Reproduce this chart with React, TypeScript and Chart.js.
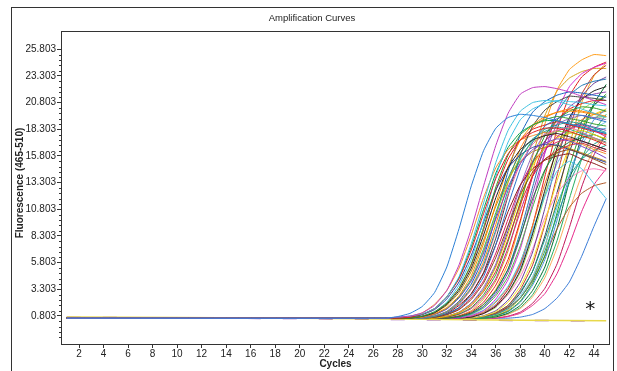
import React, { useEffect, useRef } from 'react';
import { Chart, registerables } from 'chart.js';
Chart.register(...registerables);

// ---- data ----
const startCycle = 1;
const lateCycles = [27, 28, 29, 30, 31, 32, 33, 34, 35, 36, 37, 38, 39, 40, 41, 42, 43, 44, 45];
const xTickValues = [2, 4, 6, 8, 10, 12, 14, 16, 18, 20, 22, 24, 26, 28, 30, 32, 34, 36, 38, 40, 42, 44];
const yTickValues = [0.803, 3.303, 5.803, 8.303, 10.803, 13.303, 15.803, 18.303, 20.803, 23.303, 25.803];

const earlyCurves: number[][] = [
  [0.6, 0.75, 1.05, 1.7, 3.0, 5.4, 9.0, 13.0, 16.3, 18.4, 19.4, 19.7, 19.6, 19.4, 19.1, 18.8, 18.5, 18.2, 17.9],
  [0.6, 0.7, 0.8, 1.1, 1.8, 3.2, 5.6, 9.0, 13.0, 16.8, 19.8, 21.6, 22.2, 22.3, 22.1, 21.8, 21.4, 21.0, 20.6],
  [0.6, 0.7, 0.8, 1.0, 1.5, 2.6, 4.5, 7.6, 11.4, 15.2, 18.2, 20.0, 20.8, 21.0, 20.9, 20.6, 20.2, 19.8, 19.4],
  [0.6, 0.6, 0.69, 0.96, 1.5, 2.6, 4.3, 7.0, 10.4, 13.7, 16.0, 17.3, 18.0, 18.4, 18.4, 18.1, 17.7, 17.3, 16.8],
  [0.6, 0.6, 0.6, 0.79, 1.2, 2.0, 3.4, 5.7, 9.1, 12.9, 15.9, 17.8, 18.7, 19.2, 19.5, 19.3, 19.1, 18.8, 18.6],
  [0.6, 0.6, 0.6, 0.77, 1.1, 1.9, 3.2, 5.3, 8.4, 11.9, 14.7, 16.4, 17.3, 17.7, 17.9, 17.6, 17.2, 16.8, 16.4],
  [0.6, 0.6, 0.6, 0.7, 1.0, 1.6, 2.7, 4.6, 7.6, 11.3, 14.8, 17.3, 18.7, 19.5, 19.9, 20.0, 19.9, 19.7, 19.5],
  [0.6, 0.6, 0.6, 0.68, 0.94, 1.45, 2.5, 4.1, 6.7, 9.9, 12.9, 15.1, 16.4, 17.0, 17.4, 17.2, 16.7, 16.2, 15.6],
  [0.6, 0.6, 0.6, 0.6, 0.78, 1.15, 2.0, 3.4, 5.6, 8.9, 12.6, 15.5, 17.3, 18.3, 18.7, 19.0, 18.8, 18.4, 18.0],
  [0.6, 0.6, 0.6, 0.6, 0.78, 1.14, 1.9, 3.3, 5.4, 8.7, 12.2, 15.1, 16.9, 17.8, 18.2, 18.5, 18.0, 17.5, 17.0],
  [0.6, 0.6, 0.6, 0.6, 0.68, 0.92, 1.4, 2.35, 3.9, 6.3, 9.3, 12.2, 14.3, 15.5, 16.1, 16.4, 16.0, 15.5, 15.0],
  [0.6, 0.6, 0.6, 0.6, 0.7, 1.0, 1.56, 2.7, 4.5, 7.5, 11.2, 14.6, 17.1, 18.6, 19.3, 19.7, 19.6, 19.3, 19.0],
  [0.6, 0.6, 0.6, 0.6, 0.6, 0.78, 1.13, 1.9, 3.2, 5.4, 8.5, 12.0, 14.9, 16.6, 17.5, 17.9, 18.2, 17.8, 17.4],
  [0.6, 0.6, 0.6, 0.6, 0.6, 0.76, 1.1, 1.8, 3.1, 5.0, 8.0, 11.3, 13.9, 15.5, 16.3, 16.8, 17.0, 16.6, 16.2],
  [0.6, 0.6, 0.6, 0.6, 0.6, 0.7, 1.0, 1.6, 2.8, 4.7, 7.8, 11.5, 15.1, 17.7, 19.2, 20.0, 20.4, 20.3, 20.0],
  [0.6, 0.6, 0.6, 0.6, 0.6, 0.69, 0.96, 1.5, 2.6, 4.3, 7.2, 10.6, 13.9, 16.3, 17.6, 18.3, 18.7, 18.2, 17.6],
  [0.6, 0.6, 0.6, 0.6, 0.6, 0.6, 0.77, 1.1, 1.9, 3.2, 5.2, 8.3, 11.8, 14.5, 16.3, 17.1, 17.5, 17.8, 17.3],
  [0.6, 0.6, 0.6, 0.8, 1.2, 2.1, 3.7, 6.1, 9.8, 13.9, 17.1, 19.2, 20.2, 20.7, 21.0, 20.9, 20.8, 20.6, 20.5],
  [0.6, 0.6, 0.68, 0.93, 1.4, 2.4, 4.0, 6.5, 9.6, 12.6, 14.7, 15.9, 16.6, 16.9, 16.8, 16.4, 16.0, 15.6, 15.2],
  [0.6, 0.6, 0.6, 0.69, 0.95, 1.5, 2.5, 4.2, 6.9, 10.3, 13.4, 15.7, 17.1, 17.7, 18.1, 18.0, 17.7, 17.4, 17.0],
  [0.6, 0.6, 0.6, 0.6, 0.75, 1.06, 1.8, 2.9, 4.8, 7.5, 10.6, 13.1, 14.6, 15.4, 15.8, 16.0, 15.5, 15.1, 14.6],
  [0.6, 0.6, 0.6, 0.6, 0.7, 1.0, 1.6, 2.9, 4.9, 8.1, 12.1, 15.9, 18.6, 20.1, 20.9, 21.4, 21.3, 21.2, 21.0],
  [0.6, 0.6, 0.77, 1.1, 1.9, 3.2, 5.3, 8.4, 11.9, 14.7, 16.4, 17.3, 17.7, 18.0, 17.7, 17.3, 16.9, 16.4, 16.0],
  [0.6, 0.6, 0.6, 0.6, 0.6, 0.79, 1.17, 2.0, 3.5, 5.7, 9.2, 13.0, 16.0, 17.9, 18.8, 19.3, 19.6, 19.4, 19.2],
  [0.6, 0.6, 0.6, 0.78, 1.15, 2.0, 3.4, 5.6, 8.9, 12.6, 15.5, 17.3, 18.3, 18.7, 19.0, 18.7, 18.4, 18.1, 17.8],
  [0.6, 0.6, 0.6, 0.69, 0.96, 1.5, 2.6, 4.3, 7.1, 10.5, 13.7, 16.1, 17.4, 18.1, 18.5, 18.3, 17.9, 17.5, 17.1],
  [0.6, 0.6, 0.6, 0.6, 0.8, 1.2, 2.1, 3.5, 5.9, 9.4, 13.3, 16.5, 18.4, 19.4, 19.9, 20.2, 20.0, 19.8, 19.5],
  [0.6, 0.6, 0.6, 0.6, 0.68, 0.94, 1.45, 2.5, 4.1, 6.7, 9.9, 13.0, 15.2, 16.5, 17.1, 17.4, 17.2, 16.8, 16.4],
  [0.6, 0.6, 0.6, 0.6, 0.6, 0.78, 1.15, 2.0, 3.3, 5.5, 8.8, 12.4, 15.3, 17.2, 18.1, 18.6, 18.8, 18.5, 18.2],
  [0.6, 0.6, 0.69, 0.97, 1.5, 2.6, 4.4, 7.3, 10.8, 14.2, 16.6, 18.0, 18.7, 19.1, 19.1, 18.8, 18.5, 18.2, 17.9],
  [0.6, 0.6, 0.6, 0.76, 1.1, 1.8, 3.0, 5.0, 7.9, 11.1, 13.7, 15.3, 16.2, 16.6, 16.8, 16.5, 16.1, 15.7, 15.3],
  [0.6, 0.6, 0.6, 0.6, 0.81, 1.24, 2.2, 3.8, 6.3, 10.1, 14.4, 17.8, 19.9, 20.9, 21.5, 21.8, 21.7, 21.5, 21.3],
];

const lateCurves: number[][] = [
  [0.6, 0.6, 0.6, 0.6, 0.6, 0.6, 0.8, 1.2, 2.1, 3.7, 6.1, 9.8, 13.9, 17.1, 19.2, 20.2, 20.7, 21.0, 21.0],
  [0.6, 0.6, 0.6, 0.6, 0.6, 0.6, 0.71, 1.05, 1.7, 3.1, 5.2, 8.7, 12.9, 17.0, 19.9, 21.5, 22.4, 22.8, 23.0],
  [0.6, 0.6, 0.6, 0.6, 0.6, 0.6, 0.7, 0.98, 1.55, 2.7, 4.5, 7.4, 11.0, 14.4, 16.9, 18.3, 19.0, 19.4, 19.5],
  [0.6, 0.6, 0.6, 0.6, 0.6, 0.6, 0.72, 1.1, 1.85, 3.3, 5.7, 9.6, 14.3, 18.8, 22.0, 23.9, 24.8, 25.3, 25.2],
  [0.6, 0.6, 0.6, 0.6, 0.6, 0.6, 0.6, 0.84, 1.3, 2.4, 4.2, 7.1, 11.4, 16.1, 20.0, 22.3, 23.5, 24.1, 24.5],
  [0.6, 0.6, 0.6, 0.6, 0.6, 0.6, 0.6, 0.71, 1.04, 1.7, 3.0, 5.1, 8.5, 12.6, 16.6, 19.4, 21.1, 21.9, 22.3],
  [0.6, 0.6, 0.6, 0.6, 0.6, 0.6, 0.68, 0.9, 1.35, 2.2, 3.6, 5.9, 8.9, 12.0, 14.4, 15.3, 14.6, 13.2, 11.8],
  [0.6, 0.6, 0.6, 0.6, 0.6, 0.6, 0.6, 0.6, 0.8, 1.2, 2.1, 3.6, 6.0, 9.6, 13.5, 16.7, 18.7, 19.7, 20.2],
  [0.6, 0.6, 0.6, 0.6, 0.6, 0.6, 0.6, 0.6, 0.83, 1.3, 2.3, 4.0, 6.8, 10.9, 15.5, 19.1, 21.4, 22.6, 23.2],
  [0.6, 0.6, 0.6, 0.6, 0.6, 0.6, 0.6, 0.6, 0.69, 0.95, 1.47, 2.5, 4.2, 6.9, 10.2, 13.3, 15.6, 16.9, 17.5],
  [0.6, 0.6, 0.6, 0.6, 0.6, 0.6, 0.6, 0.74, 1.03, 1.7, 2.8, 4.5, 7.1, 10.0, 12.3, 13.7, 14.4, 14.6, 14.4],
  [0.6, 0.6, 0.6, 0.6, 0.6, 0.6, 0.6, 0.6, 0.72, 1.1, 1.8, 3.3, 5.6, 9.4, 14.0, 18.4, 21.6, 23.4, 24.3],
  [0.6, 0.6, 0.6, 0.6, 0.6, 0.6, 0.6, 0.6, 0.6, 0.82, 1.26, 2.2, 3.9, 6.5, 10.5, 14.8, 18.3, 20.5, 21.6],
  [0.6, 0.6, 0.6, 0.6, 0.6, 0.6, 0.6, 0.6, 0.6, 0.8, 1.2, 2.1, 3.7, 6.1, 9.8, 13.9, 17.1, 19.2, 20.2],
  [0.6, 0.6, 0.6, 0.6, 0.6, 0.6, 0.6, 0.6, 0.73, 1.0, 1.6, 2.5, 4.1, 6.4, 9.0, 11.0, 12.3, 13.0, 13.3],
  [0.6, 0.6, 0.6, 0.6, 0.6, 0.6, 0.6, 0.6, 0.6, 0.72, 1.07, 1.8, 3.2, 5.4, 9.0, 13.5, 17.7, 20.7, 22.5],
  [0.6, 0.6, 0.6, 0.6, 0.6, 0.6, 0.6, 0.6, 0.6, 0.69, 0.97, 1.5, 2.6, 4.4, 7.2, 10.7, 14.0, 16.4, 17.8],
  [0.6, 0.6, 0.6, 0.6, 0.6, 0.6, 0.6, 0.6, 0.6, 0.6, 0.75, 1.06, 1.8, 2.9, 4.8, 7.5, 10.6, 13.1, 14.6],
  [0.6, 0.6, 0.6, 0.6, 0.6, 0.6, 0.6, 0.6, 0.6, 0.6, 0.6, 0.7, 0.95, 1.5, 2.5, 4.0, 6.4, 9.2, 11.8],
  [0.6, 0.6, 0.6, 0.6, 0.6, 0.6, 0.6, 0.7, 1.02, 1.6, 2.9, 4.9, 8.1, 12.1, 15.9, 18.6, 20.1, 20.9, 21.4],
  [0.6, 0.6, 0.6, 0.6, 0.6, 0.6, 0.83, 1.3, 2.4, 4.1, 6.9, 11.1, 15.8, 19.6, 21.9, 23.1, 23.7, 24.0, 24.0],
  [0.6, 0.6, 0.6, 0.6, 0.6, 0.6, 0.6, 0.6, 0.7, 0.98, 1.55, 2.7, 4.5, 7.4, 11.0, 14.4, 16.9, 18.3, 19.0],
  [0.6, 0.6, 0.6, 0.6, 0.6, 0.6, 0.71, 1.02, 1.66, 2.9, 4.9, 8.2, 12.3, 16.1, 18.8, 20.4, 21.2, 21.6, 21.8],
  [0.6, 0.6, 0.6, 0.6, 0.6, 0.6, 0.6, 0.79, 1.18, 2.1, 3.5, 5.8, 9.3, 13.2, 16.3, 18.3, 19.2, 19.7, 20.0],
  [0.6, 0.6, 0.6, 0.6, 0.6, 0.6, 0.6, 0.72, 1.08, 1.8, 3.3, 5.6, 9.3, 13.9, 18.3, 21.4, 23.2, 24.1, 24.6],
  [0.6, 0.6, 0.6, 0.6, 0.6, 0.6, 0.6, 0.6, 0.76, 1.1, 1.8, 3.1, 5.0, 8.0, 11.3, 13.9, 15.5, 16.3, 16.8],
  [0.6, 0.6, 0.6, 0.6, 0.6, 0.6, 0.6, 0.6, 0.71, 1.03, 1.67, 2.95, 5.0, 8.3, 12.4, 16.2, 19.0, 20.6, 21.4],
  [0.6, 0.6, 0.6, 0.6, 0.6, 0.6, 0.6, 0.6, 0.6, 0.85, 1.35, 2.5, 4.3, 7.3, 11.8, 16.8, 20.8, 23.3, 24.5],
  [0.6, 0.6, 0.6, 0.6, 0.6, 0.6, 0.6, 0.6, 0.6, 0.7, 1.0, 1.6, 2.8, 4.8, 7.9, 11.8, 15.5, 18.1, 19.7],
  [0.6, 0.6, 0.6, 0.6, 0.6, 0.6, 0.6, 0.6, 0.6, 0.6, 0.79, 1.17, 2.0, 3.4, 5.7, 9.1, 12.9, 15.9, 17.8],
  [0.6, 0.6, 0.6, 0.6, 0.6, 0.6, 0.6, 0.78, 1.14, 1.9, 3.3, 5.4, 8.7, 12.2, 15.1, 16.9, 17.8, 18.2, 18.4],
];

const negativeCycles = [1, 10, 20, 30, 38, 45];
const negativeCurves: number[][] = [
  [0.7, 0.66, 0.6, 0.5, 0.4, 0.35],
  [0.68, 0.62, 0.56, 0.46, 0.38, 0.36],
];

const asteriskCycle = 43.7;
const asteriskValue = 1.75;

const earlyColors = [
  '#2b7fd6', '#c03cc0', '#3fc1e0', '#e41a1c', '#33a02c', '#222222', '#ff8c00', '#7b3fbf',
  '#17a2a2', '#f06292', '#8b4513', '#2a6fc9', '#e6d200', '#d62728', '#2ca02c', '#c51b8a',
  '#1b7a3c', '#3cc3e6', '#283c9e', '#9acd32', '#8b1a1a', '#444444', '#f28e2b', '#9467bd',
  '#e31a1c', '#1f9e89', '#ff7f0e', '#d81b60', '#6a3d9a', '#00a651', '#b8860b', '#1565c0',
];
const lateColors = [
  '#e41a1c', '#1f78b4', '#4daf4a', '#ff9f1c', '#d62fd6', '#1a1a1a', '#48c7e6', '#f2e01f',
  '#6a3d9a', '#1f9e89', '#ff7fbf', '#c0392b', '#2ca02c', '#4a90d9', '#b15928', '#006d2c',
  '#fdae61', '#e7298a', '#3b7dd8', '#a6d854', '#d4a017', '#67c5e8', '#8e44ad', '#e67e22',
  '#e31a1c', '#16a085', '#2c3e50', '#f39c12', '#27ae60', '#c2185b', '#5dade2',
];
const negativeColors = ['#e8d84a', '#9b59b6'];

const tickFont = { family: '"Liberation Sans", Arial, sans-serif', size: 10 };

export default function App() {
  const ref = useRef<HTMLCanvasElement>(null);

  useEffect(() => {
    document.body.style.margin = '0';
    const curves = [...earlyCurves, ...lateCurves];
    const colors = [...earlyColors, ...lateColors];
    const datasets: any[] = curves.map((vals, i) => ({
      data: [{ x: startCycle, y: vals[0] }, ...vals.map((v, j) => ({ x: lateCycles[j], y: v }))],
      borderColor: colors[i],
      borderWidth: 1,
      pointRadius: 0,
      tension: 0.15,
      fill: false,
    }));
    negativeCurves.forEach((vals, i) => {
      datasets.push({
        data: vals.map((v, j) => ({ x: negativeCycles[j], y: v })),
        borderColor: negativeColors[i],
        borderWidth: 1.5,
        borderDash: i === 1 ? [14, 22] : undefined,
        pointRadius: 0,
        tension: 0,
        fill: false,
      });
    });

    const decor = {
      id: 'decor',
      beforeDraw(chart: any) {
        const ctx = chart.ctx;
        ctx.save();
        ctx.fillStyle = '#ffffff';
        ctx.fillRect(0, 0, chart.width, chart.height);
        ctx.strokeStyle = '#333333';
        ctx.lineWidth = 1;
        ctx.strokeRect(11.5, 7.5, 602, 400);
        ctx.restore();
      },
      afterDraw(chart: any) {
        const ctx = chart.ctx;
        const a = chart.chartArea;
        const xs = chart.scales.x;
        const ys = chart.scales.y;
        ctx.save();
        ctx.strokeStyle = '#333333';
        ctx.lineWidth = 1;
        ctx.strokeRect(Math.round(a.left) + 0.5, Math.round(a.top) + 0.5, Math.round(a.right - a.left) - 1, Math.round(a.bottom - a.top));
        ctx.beginPath();
        for (let i = 0; i < yTickValues.length; i++) {
          for (let k = 1; k < 5; k++) {
            const v = yTickValues[i] - k * 0.5;
            const p = ys.getPixelForValue(v);
            if (p > a.bottom || p < a.top) continue;
            ctx.moveTo(a.left - 2, Math.round(p) + 0.5);
            ctx.lineTo(a.left, Math.round(p) + 0.5);
          }
        }
        ctx.stroke();
        ctx.fillStyle = '#222222';
        ctx.textAlign = 'center';
        ctx.textBaseline = 'middle';
        ctx.font = '9.5px "Liberation Sans", Arial, sans-serif';
        ctx.fillText('Amplification Curves', 312, 18);
        ctx.font = 'bold 10px "Liberation Sans", Arial, sans-serif';
        ctx.fillText('Cycles', (a.left + a.right) / 2, 364);
        ctx.save();
        ctx.translate(20, 183);
        ctx.rotate(-Math.PI / 2);
        ctx.fillText('Fluorescence (465-510)', 0, 0);
        ctx.restore();
        ctx.font = '20px "DejaVu Sans", sans-serif';
        ctx.fillStyle = '#111111';
        ctx.fillText('*', xs.getPixelForValue(asteriskCycle), ys.getPixelForValue(asteriskValue) + 4);
        ctx.restore();
      },
    };

    const chart = new Chart(ref.current as HTMLCanvasElement, {
      type: 'line',
      data: { datasets },
      options: {
        animation: false,
        responsive: false,
        devicePixelRatio: 1,
        layout: { padding: { left: 11, top: 31, right: 7, bottom: 0 } },
        plugins: { legend: { display: false }, tooltip: { enabled: false }, title: { display: false } },
        scales: {
          x: {
            type: 'linear',
            min: 0.53,
            max: 45.31,
            afterFit: (s: any) => { s.height = 27; },
            afterBuildTicks: (s: any) => { s.ticks = xTickValues.map((v) => ({ value: v })); },
            ticks: { font: tickFont, color: '#222222', padding: 0, maxRotation: 0, autoSkip: false, callback: (v: any) => String(v) },
            grid: { display: true, drawOnChartArea: false, drawTicks: true, tickLength: 4, color: '#333333' },
            border: { display: false },
          },
          y: {
            type: 'linear',
            min: -1.821,
            max: 27.51,
            afterFit: (s: any) => { s.width = 50; },
            afterBuildTicks: (s: any) => { s.ticks = yTickValues.map((v) => ({ value: v })); },
            ticks: { font: tickFont, color: '#222222', padding: 1, autoSkip: false, callback: (v: any) => Number(v).toFixed(3) },
            grid: { display: true, drawOnChartArea: false, drawTicks: true, tickLength: 4, color: '#333333' },
            border: { display: false },
          },
        },
      } as any,
      plugins: [decor],
    });
    return () => chart.destroy();
  }, []);

  return (
    <div style={{ width: 617, height: 371 }}>
      <canvas ref={ref} width={617} height={371} style={{ display: 'block' }} />
    </div>
  );
}
